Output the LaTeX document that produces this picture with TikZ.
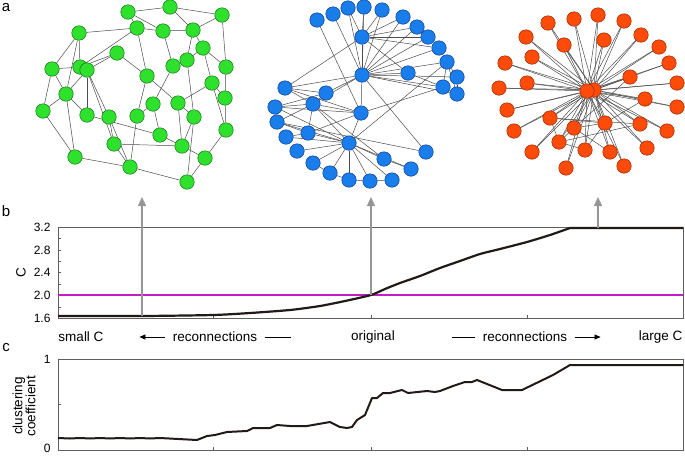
\documentclass[tikz,border=0pt]{standalone}
\usepackage{fontspec}
\setmainfont{Liberation Sans}
\definecolor{gfill}{RGB}{45, 225, 45}
\definecolor{gline}{RGB}{25, 110, 25}
\definecolor{bfill}{RGB}{25, 125, 235}
\definecolor{bline}{RGB}{15, 60, 140}
\definecolor{rfill}{RGB}{255, 75, 10}
\definecolor{rline}{RGB}{150, 40, 0}
\definecolor{refpurple}{RGB}{195, 30, 195}
\definecolor{curveblack}{RGB}{35, 25, 25}
\definecolor{axisgray}{RGB}{95, 95, 95}
\definecolor{pointgray}{RGB}{150, 150, 150}
\usepackage{tikz}
\usetikzlibrary{arrows.meta, positioning, calc}
\pgfdeclarelayer{bg}
\pgfsetlayers{bg,main}

\begin{document}
\begin{tikzpicture}[x=1pt, y=-1pt,
  dot/.style={circle, inner sep=0pt, minimum size=14.5pt, line width=0.5pt},
  gdot/.style={dot, fill=gfill, draw=gline},
  bdot/.style={dot, fill=bfill, draw=bline},
  rdot/.style={dot, fill=rfill, draw=rline},
  edge/.style={draw=black!70, line width=0.5pt},
  frame/.style={draw=axisgray, line width=0.8pt},
  curve/.style={draw=curveblack, line width=2.2pt, line join=round},
  uparrow/.style={draw=pointgray, line width=1.2pt, -{Triangle[length=9pt, width=8pt]}},
  labarrow/.style={draw=black, line width=0.7pt, -{Triangle[length=6pt, width=5pt]}},
  tick/.style={font=\fontsize{12}{12}\selectfont, anchor=east},
  lab/.style={font=\fontsize{13.5}{15}\selectfont},
  panel/.style={font=\fontsize{15}{15}\selectfont}]
\useasboundingbox (0,0) rectangle (685,456);

% panel labels
\node[panel] (pa) at (6,8) {a};
\node[panel] (pb) at (6,211) {b};
\node[panel] (pc) at (6,348) {c};

% a: three networks
\foreach \n/\x/\y in {1/128/12, 2/170/7, 3/222/15, 4/79/33, 5/137/28, 6/163/31,
  7/193/30, 8/117/53, 9/203/48, 10/52/69, 11/80/67, 12/87/70, 13/147/76,
  14/173/66, 15/187/60, 16/226/67, 17/212/83, 18/66/94, 19/43/111, 20/87/115,
  21/109/117, 22/137/116, 23/153/104, 24/178/103, 25/225/98, 26/194/117,
  27/160/135, 28/226/130, 29/114/144, 30/182/146, 31/75/157, 32/130/167,
  33/205/158, 34/187/182}
  \node[gdot] (g\n) at (\x,\y) {};
\begin{pgfonlayer}{bg}
\foreach \a/\b in {1/2, 2/3, 1/5, 4/5, 4/10, 4/11, 4/18, 5/6, 6/7, 2/7, 5/13,
  6/14, 7/9, 9/16, 9/17, 3/16, 8/12, 8/13, 8/11, 10/11, 10/19, 10/18, 12/20,
  12/21, 12/29, 13/24, 13/22, 14/15, 14/23, 15/26, 16/25, 17/24, 17/25,
  17/28, 18/19, 18/20, 18/31, 18/12, 19/31, 20/27, 21/29, 21/32, 22/23,
  22/32, 23/27, 24/26, 24/30, 25/28, 26/30, 26/34, 27/30, 28/33, 29/32,
  29/30, 31/32, 32/34, 33/34, 30/33, 11/5, 1/6, 7/15, 3/7, 15/9}
  \draw[edge] (g\a) -- (g\b);
\end{pgfonlayer}

\foreach \n/\x/\y in {1/317/20, 2/333/14, 3/348/8, 4/364/7, 5/382/10,
  6/403/17, 7/417/27, 8/428/37, 9/439/48, 10/447/62, 11/457/77, 12/457/94,
  13/443/87, 14/408/73, 15/362/37, 16/362/75, 17/285/88, 18/326/93,
  19/275/107, 20/313/104, 21/361/113, 22/277/122, 23/308/133, 24/286/137,
  25/349/143, 26/297/151, 27/426/152, 28/384/159, 29/313/163, 30/411/169,
  31/330/173, 32/349/180, 33/370/181, 34/392/180}
  \node[bdot] (b\n) at (\x,\y) {};
\begin{pgfonlayer}{bg}
\foreach \a/\b in {16/2, 16/3, 16/4, 16/5, 16/6, 16/7, 16/8, 16/9, 16/10,
  16/14, 16/13, 16/17, 16/18, 16/21, 16/27, 16/11, 16/15, 16/20, 15/4, 15/5,
  15/6, 15/7, 15/8, 15/9, 15/3, 15/17, 1/21, 17/18, 17/21, 17/20, 19/20,
  19/25, 19/21, 19/18, 19/22, 20/18, 20/21, 20/25, 20/22, 20/23, 20/28,
  21/25, 21/13, 21/23, 22/25, 22/23, 23/25, 23/24, 24/25, 25/26, 25/29,
  25/31, 25/32, 25/33, 25/34, 25/28, 25/10, 25/30, 27/22, 28/30, 29/31,
  31/32, 32/33, 33/34, 10/11, 10/12, 10/13, 11/12, 9/10, 14/13, 14/15, 12/16}
  \draw[edge] (b\a) -- (b\b);
\end{pgfonlayer}

\node[rdot] (h2) at (594,90) {};
\node[rdot] (h1) at (587,91) {};
\foreach \n/\x/\y in {1/548/23, 2/574/19, 3/598/15, 4/624/21, 5/526/37,
  6/564/45, 7/604/40, 8/641/35, 9/659/47, 10/505/63, 11/532/57, 12/669/63,
  13/630/77, 14/499/88, 15/527/83, 16/677/83, 17/645/99, 18/507/110,
  19/677/107, 20/550/118, 21/605/123, 22/640/124, 23/574/128, 24/514/131,
  25/667/131, 26/559/142, 27/647/148, 28/585/150, 29/610/152, 30/532/152,
  31/624/166, 32/566/168}
  \node[rdot] (r\n) at (\x,\y) {};
\begin{pgfonlayer}{bg}
\foreach \n in {1,...,32} {
  \draw[edge] (h1) -- (r\n);
  \draw[edge] (h2) -- (r\n);
}
\foreach \a/\b in {20/21, 20/22, 23/21, 26/23, 26/28, 26/20, 21/17, 21/28,
  13/23, 23/29, 22/26}
  \draw[edge] (r\a) -- (r\b);
\end{pgfonlayer}

% b: C along the reconnections
\draw[frame] (58,227) rectangle (683,318);
\foreach \y in {227,238.4,...,318} \draw[frame, line width=0.6pt] (58,\y) -- (61,\y);
\foreach \x in {213,371,527} \draw[frame, line width=0.6pt] (\x,318) -- (\x,315);
\foreach \v/\y in {3.2/227, 2.8/250, 2.4/272.5, 2.0/295, 1.6/318}
  \node[tick] (cb\y) at (54,\y) {\v};
\node[lab, rotate=90] (cbname) at (21,273) {C};
\coordinate (refl) at (58,295);
\coordinate (refr) at (683,295);
\draw[refpurple, line width=1.2pt] (refl) -- (refr);
\draw[curve] plot[smooth, tension=0.4] coordinates {(58,316) (142,316)
  (213,315) (250,313) (290,310) (320,306) (345,301) (371,295) (385,289)
  (400,283) (420,276) (440,268) (460,261) (480,254) (500,249) (527,242)
  (550,235) (570,228)} -- (683,228);

\coordinate (lo) at (142,316);
\coordinate (lotip) at (142,197);
\coordinate (orig) at (371,295);
\coordinate (origtip) at (371,197);
\coordinate (hi) at (598,228);
\coordinate (hitip) at (598,197);
\draw[uparrow] (lo) -- (lotip);
\draw[uparrow] (orig) -- (origtip);
\draw[uparrow] (hi) -- (hitip);

% the reconnection axis
\node[lab] (smallC) at (81,337) {small C};
\node[lab] (recL) at (215,337) {reconnections};
\node[lab] (original) at (373,337) {original};
\node[lab] (recR) at (525,337) {reconnections};
\node[lab, anchor=east] (largeC) at (686,337) {large C};
\draw[labarrow] ([xshift=-4pt]recL.west) -- ++(-26,0);
\draw[black, line width=0.7pt] ([xshift=4pt]recL.east) -- ++(26,0);
\draw[black, line width=0.7pt] ([xshift=-4pt]recR.west) -- ++(-23,0);
\draw[labarrow] ([xshift=4pt]recR.east) -- ++(26,0);

% c: clustering coefficient
\draw[frame] (58,359) rectangle (683,450);
\draw[frame, line width=0.6pt] (58,404.5) -- (61,404.5);
\foreach \x in {213,371,527} \draw[frame, line width=0.6pt] (\x,450) -- (\x,447);
\node[tick] (cc1) at (54,359) {1};
\node[tick] (cc0) at (54,448.5) {0};
\node[lab, rotate=90, align=center] (ccname) at (24,406) {clustering\\[-2pt]coefficient};
\draw[curve, line width=2pt] (58,438) -- (70,438.5) -- (80,438) -- (90,438.5) -- (100,438)
  -- (110,438.5) -- (120,438) -- (130,438.5) -- (140,438) -- (150,438.5) -- (160,438)
  -- (197,440) -- (207,436) -- (215,435) -- (227,432) -- (247,431) -- (253,428)
  -- (270,428) -- (277,425) -- (290,426) -- (307,426) -- (330,422) -- (340,427)
  -- (347,428) -- (352,427) -- (357,420) -- (365,415) -- (372,398) -- (377,398)
  -- (383,393) -- (390,393) -- (402,390) -- (408,393) -- (427,391) -- (435,392)
  -- (440,391) -- (453,386) -- (465,382) -- (472,382) -- (477,380) -- (502,390)
  -- (522,390) -- (553,375) -- (570,365) -- (683,365);
\end{tikzpicture}
\end{document}
